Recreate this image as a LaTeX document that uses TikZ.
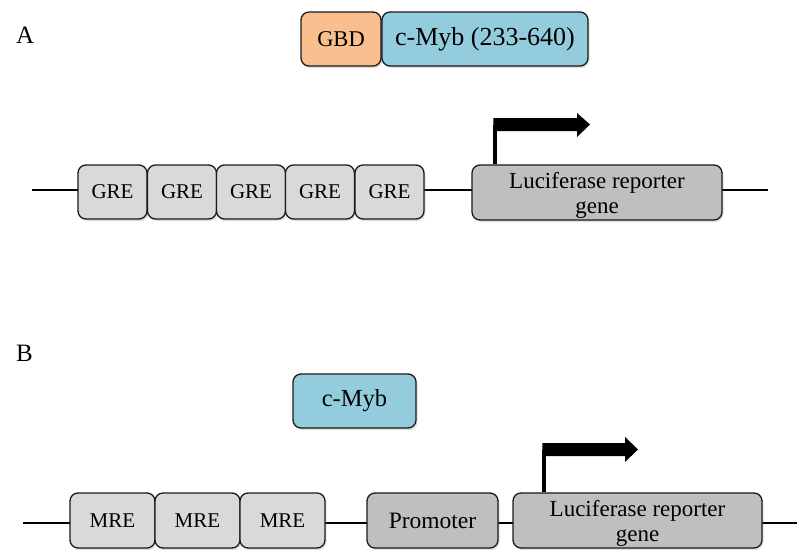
\documentclass[tikz,border=0pt]{standalone}
\usepackage{fontspec}
\setmainfont{Liberation Serif}
\usetikzlibrary{shadows}
\definecolor{gbdorange}{HTML}{F9BF8F}
\definecolor{mybblue}{HTML}{93CDDD}
\definecolor{lightbox}{HTML}{D9D9D9}
\definecolor{darkbox}{HTML}{BFBFBF}
\definecolor{boxedge}{HTML}{1A1A1A}
\tikzset{
  fsz/.style={font=\fontsize{#1}{24.5}\selectfont},
  element/.style={draw=boxedge, line width=1.3pt, rounded corners=8pt, inner sep=0pt,
    drop shadow={shadow xshift=1.5pt, shadow yshift=-2pt, opacity=0.25}},
  boxtext/.style={inner sep=0pt, align=center},
  dna/.style={line width=2.2pt, black},
  tss/.style={line width=3.5pt, black},
  bigarrow/.style={fill=black, draw=none},
  panel/.style={font=\fontsize{25}{26}\selectfont, inner sep=0pt}
}
\begin{document}
\begin{tikzpicture}[x=1pt,y=-1pt]
\useasboundingbox (0,0) rectangle (797,549);

% Panel labels
\node[panel, anchor=north west] (labA) at (16,27) {A};
\node[panel, anchor=north west] (labB) at (16,345) {B};

% ---------------- Panel A ----------------
\node[element, fill=gbdorange, minimum width=80pt, minimum height=54pt, fsz=22.5] (gbd) at (341,39) {GBD};
\node[element, fill=mybblue, minimum width=206pt, minimum height=54pt, fsz=26] (mybA) at (485,39) {c-Myb (233-640)};

\coordinate (aL) at (32,190);
\coordinate (aR) at (768,190);
\draw[dna] (aL) -- (aR);

\foreach \i/\x in {1/112.5, 2/182, 3/251, 4/320, 5/389.5}{
  \node[element, fill=lightbox, minimum width=69pt, minimum height=54pt, fsz=21] (gre\i) at (\x,192) {GRE};
}
\node[element, fill=darkbox, minimum width=250pt, minimum height=55pt] (lucA) at (597,192.5) {};
\node[boxtext, fsz=23] (lucAt) at ([yshift=-3pt]lucA.center) {Luciferase reporter\\gene};

\coordinate (tssA) at (495,124.5);
\draw[tss] (lucA.north -| tssA) -- (tssA);
\fill[bigarrow] (493.25,118) -- (577,118) -- (577,113) -- (590,124.5) -- (577,137) -- (577,131) -- (493.25,131) -- cycle;

% ---------------- Panel B ----------------
\node[element, fill=mybblue, minimum width=123pt, minimum height=54pt, fsz=24.5] (mybB) at (354.5,401) {c-Myb};

\coordinate (bL) at (23,523);
\coordinate (bR) at (797,523);
\draw[dna] (bL) -- (bR);

\foreach \i/\x in {1/112.5, 2/197.5, 3/282.5}{
  \node[element, fill=lightbox, minimum width=85pt, minimum height=55pt, fsz=21] (mre\i) at (\x,520.5) {MRE};
}
\node[element, fill=darkbox, minimum width=131pt, minimum height=55pt, fsz=23.5] (prom) at (432.5,520.5) {Promoter};
\node[element, fill=darkbox, minimum width=249pt, minimum height=55pt] (lucB) at (637.5,520.5) {};
\node[boxtext, fsz=23] (lucBt) at ([yshift=-3pt]lucB.center) {Luciferase reporter\\gene};

\coordinate (tssB) at (544,449.5);
\draw[tss] (lucB.north -| tssB) -- (tssB);
\fill[bigarrow] (542.25,443) -- (625,443) -- (625,437) -- (638,449.5) -- (625,462) -- (625,456) -- (542.25,456) -- cycle;

\end{tikzpicture}
\end{document}
